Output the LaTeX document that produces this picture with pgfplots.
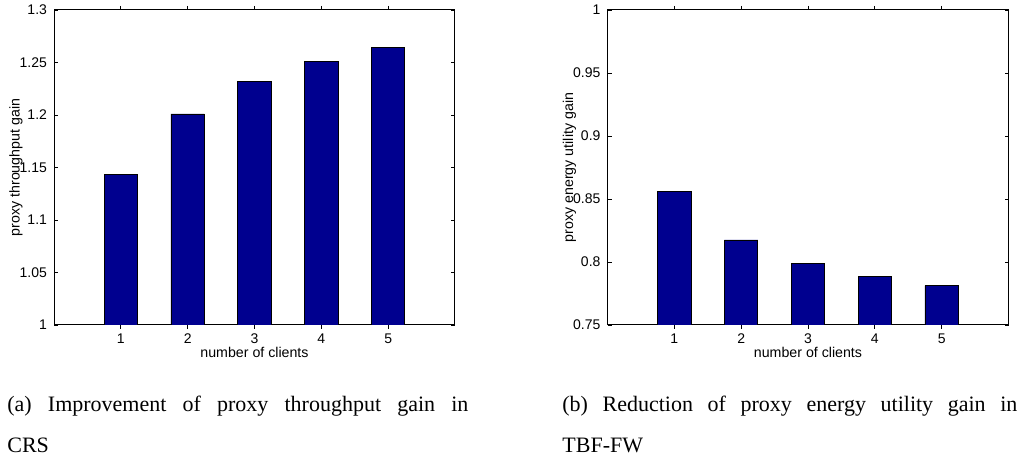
\documentclass[border=0pt]{standalone}
\usepackage{fontspec}
\setmainfont{Liberation Serif}
\newfontfamily\axfont{Liberation Sans}
\usepackage{pgfplots}
\pgfplotsset{compat=1.18}
\definecolor{barblue}{RGB}{0,0,143}
\pgfplotsset{mybar/.style={
  width=200.5pt, height=157.5pt, scale only axis,
  xmin=0, xmax=6, xtick={1,2,3,4,5},
  tick align=inside, major tick length=2pt,
  ticklabel style={font=\axfont\fontsize{7}{8}\selectfont},
  /pgf/number format/assume math mode=true,
  label style={font=\axfont\fontsize{7.1}{8}\selectfont},
  axis line style={line width=0.5pt},
  every tick/.style={black, line width=0.4pt},
  xlabel={number of clients},
  xlabel style={at={(axis description cs:0.5,-0.088)}, anchor=center},
  ylabel style={at={(axis description cs:-0.095,0.5)}, anchor=center},
  xticklabel style={yshift=1pt},
  ybar, bar width=0.5,
}}
\begin{document}
\begin{tikzpicture}
\path[use as bounding box] (0,0) rectangle (513pt,230pt);
\begin{axis}[mybar, at={(27pt,67.5pt)}, anchor=south west,
  ymin=1, ymax=1.3, ytick={1,1.05,1.1,1.15,1.2,1.25,1.3},
  yticklabels={1,1.05,1.1,1.15,1.2,1.25,1.3},
  ylabel={proxy throughput gain}]
\addplot[fill=barblue, draw=black, line width=0.4pt] coordinates {(1,1.1437) (2,1.201) (3,1.2323) (4,1.2514) (5,1.2647)};
\end{axis}
\begin{axis}[mybar, at={(303.75pt,67.5pt)}, anchor=south west,
  ymin=0.75, ymax=1, ytick={0.75,0.8,0.85,0.9,0.95,1},
  yticklabels={0.75,0.8,0.85,0.9,0.95,1},
  ylabel={proxy energy utility gain}]
\addplot[fill=barblue, draw=black, line width=0.4pt] coordinates {(1,0.8561) (2,0.8175) (3,0.799) (4,0.7883) (5,0.7812)};
\end{axis}
\node[anchor=base west, inner sep=0pt, font=\fontsize{11}{20}\selectfont, align=left] at (3.5pt,4pt) {\makebox[230.5pt][s]{(a) Improvement of proxy throughput gain in}\\CRS};
\node[anchor=base west, inner sep=0pt, font=\fontsize{11}{20}\selectfont, align=left] at (281pt,4pt) {\makebox[227.5pt][s]{(b) Reduction of proxy energy utility gain in}\\TBF-FW};
\end{tikzpicture}
\end{document}
